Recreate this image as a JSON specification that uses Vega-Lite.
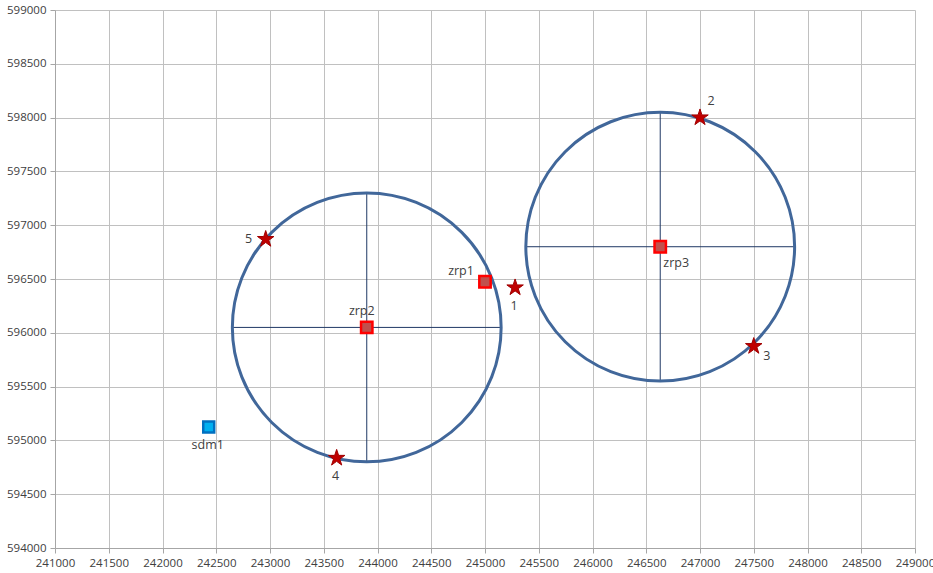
{
  "$schema": "https://vega.github.io/schema/vega-lite/v6.json",
  "autosize": {"type": "none"},
  "padding": {"left": 55, "top": 10, "right": 18, "bottom": 25},
  "width": 860,
  "height": 538,
  "background": "white",
  "config": {
    "view": {"stroke": null},
    "axis": {
      "labelFont": "Open Sans",
      "labelFontSize": 11.5,
      "labelColor": "#404040",
      "gridColor": "#c0c0c0",
      "gridWidth": 1,
      "domainColor": "#a6a6a6",
      "tickColor": "#a6a6a6",
      "tickSize": 5,
      "title": null
    }
  },
  "datasets": {
    "points": [
      {"name": "zrp1", "type": "zrp", "x": 245000, "y": 596475},
      {"name": "zrp2", "type": "zrp", "x": 243900, "y": 596050},
      {"name": "zrp3", "type": "zrp", "x": 246630, "y": 596800},
      {"name": "sdm1", "type": "sdm", "x": 242430, "y": 595125},
      {"name": "1", "type": "star", "x": 245280, "y": 596420},
      {"name": "2", "type": "star", "x": 247000, "y": 598000},
      {"name": "3", "type": "star", "x": 247500, "y": 595875},
      {"name": "4", "type": "star", "x": 243620, "y": 594836},
      {"name": "5", "type": "star", "x": 242960, "y": 596870}
    ],
    "circles": [
      {"cx": 243900, "cy": 596050},
      {"cx": 246630, "cy": 596800}
    ],
    "crosses": [
      {"x": 242650, "x2": 245150, "y": 596050, "y2": 596050},
      {"x": 243900, "x2": 243900, "y": 594800, "y2": 597300},
      {"x": 245380, "x2": 247880, "y": 596800, "y2": 596800},
      {"x": 246630, "x2": 246630, "y": 595550, "y2": 598050}
    ]
  },
  "layer": [
    {
      "data": {"name": "crosses"},
      "mark": {"type": "rule", "color": "#1f3864", "strokeWidth": 1},
      "encoding": {
        "x": {
          "field": "x", "type": "quantitative",
          "scale": {"domain": [241000, 249000], "nice": false, "zero": false},
          "axis": {"values": [241000,241500,242000,242500,243000,243500,244000,244500,245000,245500,246000,246500,247000,247500,248000,248500,249000], "format": "d", "labelPadding": 4, "grid": true, "labelFlush": false, "labelOverlap": false}
        },
        "x2": {"field": "x2"},
        "y": {
          "field": "y", "type": "quantitative",
          "scale": {"domain": [594000, 599000], "nice": false, "zero": false},
          "axis": {"values": [594000,594500,595000,595500,596000,596500,597000,597500,598000,598500,599000], "format": "d", "labelPadding": 4, "grid": true, "labelFlush": false, "labelOverlap": false}
        },
        "y2": {"field": "y2"}
      }
    },
    {
      "data": {"name": "circles"},
      "mark": {"type": "point", "shape": "circle", "filled": false, "size": 72250, "stroke": "#41679a", "strokeWidth": 3, "opacity": 1},
      "encoding": {
        "x": {"field": "cx", "type": "quantitative"},
        "y": {"field": "cy", "type": "quantitative"}
      }
    },
    {
      "data": {"name": "points"},
      "transform": [{"filter": "datum.type === 'zrp'"}],
      "mark": {"type": "point", "shape": "square", "filled": true, "size": 130, "fill": "#c0504d", "stroke": "#ff0000", "strokeWidth": 2.5, "opacity": 1},
      "encoding": {
        "x": {"field": "x", "type": "quantitative"},
        "y": {"field": "y", "type": "quantitative"}
      }
    },
    {
      "data": {"name": "points"},
      "transform": [{"filter": "datum.type === 'sdm'"}],
      "mark": {"type": "point", "shape": "square", "filled": true, "size": 120, "fill": "#00b0f0", "stroke": "#0070c0", "strokeWidth": 2.5, "opacity": 1},
      "encoding": {
        "x": {"field": "x", "type": "quantitative"},
        "y": {"field": "y", "type": "quantitative"}
      }
    },
    {
      "data": {"name": "points"},
      "transform": [{"filter": "datum.type === 'star'"}],
      "mark": {"type": "point", "shape": "M0,-1L0.225,-0.309L0.951,-0.309L0.363,0.118L0.588,0.809L0,0.382L-0.588,0.809L-0.363,0.118L-0.951,-0.309L-0.225,-0.309Z", "filled": true, "size": 300, "fill": "#c00000", "stroke": "#a00000", "strokeWidth": 1, "opacity": 1},
      "encoding": {
        "x": {"field": "x", "type": "quantitative"},
        "y": {"field": "y", "type": "quantitative"}
      }
    },
    {
      "data": {"name": "points"},
      "transform": [{"filter": "datum.name === '1' || datum.name === '4' || datum.name === 'sdm1'"}],
      "mark": {"type": "text", "font": "Open Sans", "fontSize": 12.5, "color": "#404040", "dy": 18, "dx": -1},
      "encoding": {
        "x": {"field": "x", "type": "quantitative"},
        "y": {"field": "y", "type": "quantitative"},
        "text": {"field": "name"}
      }
    },
    {
      "data": {"name": "points"},
      "transform": [{"filter": "datum.name === 'zrp2'"}],
      "mark": {"type": "text", "font": "Open Sans", "fontSize": 12.5, "color": "#404040", "dy": -16, "dx": -5},
      "encoding": {
        "x": {"field": "x", "type": "quantitative"},
        "y": {"field": "y", "type": "quantitative"},
        "text": {"field": "name"}
      }
    },
    {
      "data": {"name": "points"},
      "transform": [{"filter": "datum.name === 'zrp1'"}],
      "mark": {"type": "text", "font": "Open Sans", "fontSize": 12.5, "color": "#404040", "dy": -11, "dx": -24},
      "encoding": {
        "x": {"field": "x", "type": "quantitative"},
        "y": {"field": "y", "type": "quantitative"},
        "text": {"field": "name"}
      }
    },
    {
      "data": {"name": "points"},
      "transform": [{"filter": "datum.name === 'zrp3'"}],
      "mark": {"type": "text", "font": "Open Sans", "fontSize": 12.5, "color": "#404040", "dy": 16, "dx": 16},
      "encoding": {
        "x": {"field": "x", "type": "quantitative"},
        "y": {"field": "y", "type": "quantitative"},
        "text": {"field": "name"}
      }
    },
    {
      "data": {"name": "points"},
      "transform": [{"filter": "datum.name === '2'"}],
      "mark": {"type": "text", "font": "Open Sans", "fontSize": 12.5, "color": "#404040", "dy": -17, "dx": 11},
      "encoding": {
        "x": {"field": "x", "type": "quantitative"},
        "y": {"field": "y", "type": "quantitative"},
        "text": {"field": "name"}
      }
    },
    {
      "data": {"name": "points"},
      "transform": [{"filter": "datum.name === '3'"}],
      "mark": {"type": "text", "font": "Open Sans", "fontSize": 12.5, "color": "#404040", "dy": 10, "dx": 13},
      "encoding": {
        "x": {"field": "x", "type": "quantitative"},
        "y": {"field": "y", "type": "quantitative"},
        "text": {"field": "name"}
      }
    },
    {
      "data": {"name": "points"},
      "transform": [{"filter": "datum.name === '5'"}],
      "mark": {"type": "text", "font": "Open Sans", "fontSize": 12.5, "color": "#404040", "dy": 0, "dx": -17},
      "encoding": {
        "x": {"field": "x", "type": "quantitative"},
        "y": {"field": "y", "type": "quantitative"},
        "text": {"field": "name"}
      }
    }
  ]
}
